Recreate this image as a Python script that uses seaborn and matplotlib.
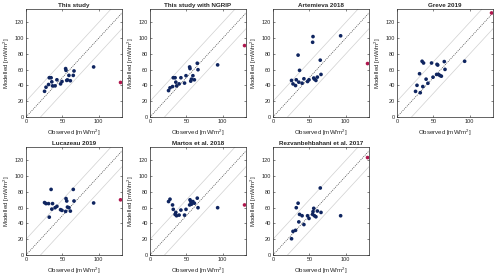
import numpy as np
import pandas as pd
import seaborn as sns
import matplotlib
matplotlib.use("Agg")
from matplotlib import pyplot as plt

# observed heat flow at the sites (same for every panel) [mW/m2]
observed = [25.5, 27.5, 31, 32, 34.5, 35.5, 36.5, 40, 42.5, 47.5,
            49.5, 54.5, 55, 56, 57, 59, 61, 65, 66, 93]
ngrip_observed = 130

titles = ["This study", "This study with NGRIP", "Artemieva 2018", "Greve 2019",
          "Lucazeau 2019", "Martos et al. 2018", "Rezvanbehbahani et al. 2017"]

this_study = [32.6, 37.8, 41.2, 49.8, 49.8, 44.6, 39.5, 39.5, 47.2, 42,
              45, 61.4, 59.2, 46.4, 47, 52.8, 46, 52.8, 58.4, 63.5]
this_study_ngrip = [33.5, 37, 38.6, 49.8, 49.8, 44.2, 39.5, 42, 49.8, 43,
                    52.4, 63.5, 61.4, 45.5, 48, 52.4, 47.2, 68.2, 60, 66.1]
artemieva = [46.4, 42, 39.9, 47.2, 78.5, 44.2, 59.2, 42.9, 48.5, 45,
             47.2, 94.8, 102, 49.4, 48, 46.4, 50.6, 72.1, 54, 103]
greve = [32.5, 40.2, 54.9, 30.8, 70.7, 38.6, 68.5, 48, 42.8, 68.5,
         50.5, 54, 66.8, 65.9, 54, 52.7, 51.8, 70.3, 60.4, 70.7]
lucazeau = [66.5, 65.2, 65.2, 48, 83.2, 58.2, 65.2, 60, 61.7, 57.5,
            56.6, 55.3, 71.6, 68.5, 60.8, 60, 55.7, 83.2, 68.5, 66]
martos = [67.8, 70.8, 63.5, 57.9, 51.5, 54, 49.8, 50.6, 57, 50.6,
          57.9, 63.5, 70, 67.8, 64.4, 67.8, 65.7, 72.1, 60, 60]
rezvan = [20.6, 30, 31.3, 60, 65.7, 42, 51.5, 49.8, 38.6, 49.8,
          46.4, 51.5, 55, 59.2, 49.8, 48.5, 55.8, 85, 54, 49.8]

# modelled value at NGRIP for each panel
ngrip_modelled = [43.8, 90.6, 67.8, 132, 70, 63.5, 123.6]

models = [this_study, this_study_ngrip, artemieva, greve, lucazeau, martos, rezvan]

sns.set_style("ticks")
plt.rcParams["font.family"] = ["Liberation Sans", "DejaVu Sans"]
plt.rcParams["mathtext.fontset"] = "custom"
plt.rcParams["mathtext.rm"] = "Liberation Sans"

fig = plt.figure(figsize=(5.0, 2.77), dpi=100)

lefts = [26, 150, 273, 397]
w, h = 96 / 500, 108 / 277
rows = [(277 - 117) / 277, (277 - 255) / 277]

blue = "#0f2560"
red = "#b0174e"

for i, (title, mod) in enumerate(zip(titles, models)):
    r, c = divmod(i, 4)
    ax = fig.add_axes([lefts[c] / 500, rows[r], w, h])
    df = pd.DataFrame({"obs": observed, "mod": mod})
    line = np.array([0, 140])
    ax.plot(line, line + 20, color="#d0d0d0", lw=0.5, zorder=1)
    ax.plot(line, line - 20, color="#d0d0d0", lw=0.5, zorder=1)
    ax.plot(line, line, color="#404040", lw=0.5, ls=(0, (1.5, 1.5)), zorder=1)
    sns.scatterplot(data=df, x="obs", y="mod", ax=ax, color=blue, s=7,
                    edgecolor="none", zorder=3)
    sns.scatterplot(x=[ngrip_observed], y=[ngrip_modelled[i]], ax=ax, color=red,
                    s=7, edgecolor="none", zorder=3)
    ax.set_xlim(0, 132)
    ax.set_ylim(0, 137)
    ax.set_xticks([0, 50, 100])
    ax.set_yticks(range(0, 121, 20))
    ax.tick_params(direction="in", length=1.5, width=0.4, labelsize=4,
                   colors="#262626", pad=1.5, top=True, right=True)
    for sp in ax.spines.values():
        sp.set_linewidth(0.5)
        sp.set_color("#262626")
    ax.set_title(title, fontsize=4.5, fontweight="bold", pad=1.5)
    ax.set_xlabel("Observed [mW/m$^2$]", fontsize=4.4, labelpad=2.5, color="#262626")
    ax.set_ylabel("Modelled [mW/m$^2$]", fontsize=4.4, labelpad=2, color="#262626")

fig.savefig("out.png", dpi=100)
